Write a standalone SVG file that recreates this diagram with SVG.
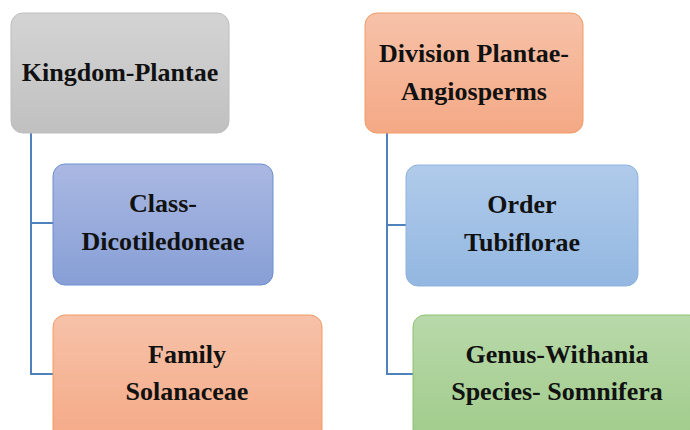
<svg xmlns="http://www.w3.org/2000/svg" width="690" height="430" viewBox="0 0 690 430">
<defs>
<linearGradient id="gGray" x1="0" y1="0" x2="0" y2="1"><stop offset="0" stop-color="#d4d4d4"/><stop offset="1" stop-color="#c0c0c0"/></linearGradient>
<linearGradient id="gOrange" x1="0" y1="0" x2="0" y2="1"><stop offset="0" stop-color="#f7c2a9"/><stop offset="1" stop-color="#f4a985"/></linearGradient>
<linearGradient id="gBlue" x1="0" y1="0" x2="0" y2="1"><stop offset="0" stop-color="#aab8e2"/><stop offset="1" stop-color="#879fd6"/></linearGradient>
<linearGradient id="gLBlue" x1="0" y1="0" x2="0" y2="1"><stop offset="0" stop-color="#b0cbea"/><stop offset="1" stop-color="#93b7e1"/></linearGradient>
<linearGradient id="gGreen" x1="0" y1="0" x2="0" y2="1"><stop offset="0" stop-color="#b8d9aa"/><stop offset="1" stop-color="#a0cb8a"/></linearGradient>
</defs>
<style>
.t{font-family:"Liberation Serif","Times New Roman",serif;font-weight:bold;font-size:26px;fill:#111;text-anchor:middle}
.c{fill:none;stroke:#4f81bd;stroke-width:2}
</style>
<g id="connectors">
<path class="c" d="M31,133 V374 H53 M31,223 H53"/>
<path class="c" d="M387,133 V374 H413 M387,225 H406"/>
</g>
<g id="kingdom">
<rect x="11" y="13" width="218" height="120" rx="12" fill="url(#gGray)" stroke="#bdbdbd" stroke-width="1"/>
<text class="t" x="120" y="81">Kingdom-Plantae</text>
</g>
<g id="division">
<rect x="365" y="13" width="218" height="120" rx="12" fill="url(#gOrange)" stroke="#f29b64" stroke-width="1"/>
<text class="t" x="474" y="62">Division Plantae-</text>
<text class="t" x="474" y="100">Angiosperms</text>
</g>
<g id="class">
<rect x="53" y="164" width="220" height="121" rx="12" fill="url(#gBlue)" stroke="#6d8fd0" stroke-width="1"/>
<text class="t" x="163" y="212">Class-</text>
<text class="t" x="163" y="250">Dicotiledoneae</text>
</g>
<g id="order">
<rect x="406" y="165" width="232" height="121" rx="12" fill="url(#gLBlue)" stroke="#8db3e0" stroke-width="1"/>
<text class="t" x="522" y="213">Order</text>
<text class="t" x="522" y="251">Tubiflorae</text>
</g>
<g id="family">
<rect x="53" y="315" width="269" height="130" rx="12" fill="url(#gOrange)" stroke="#f29b64" stroke-width="1"/>
<text class="t" x="187" y="363">Family</text>
<text class="t" x="187" y="400">Solanaceae</text>
</g>
<g id="genus">
<rect x="413" y="315" width="288" height="130" rx="12" fill="url(#gGreen)" stroke="#8cc16e" stroke-width="1"/>
<text class="t" x="557" y="363">Genus-Withania</text>
<text class="t" x="557" y="400">Species- Somnifera</text>
</g>
</svg>
